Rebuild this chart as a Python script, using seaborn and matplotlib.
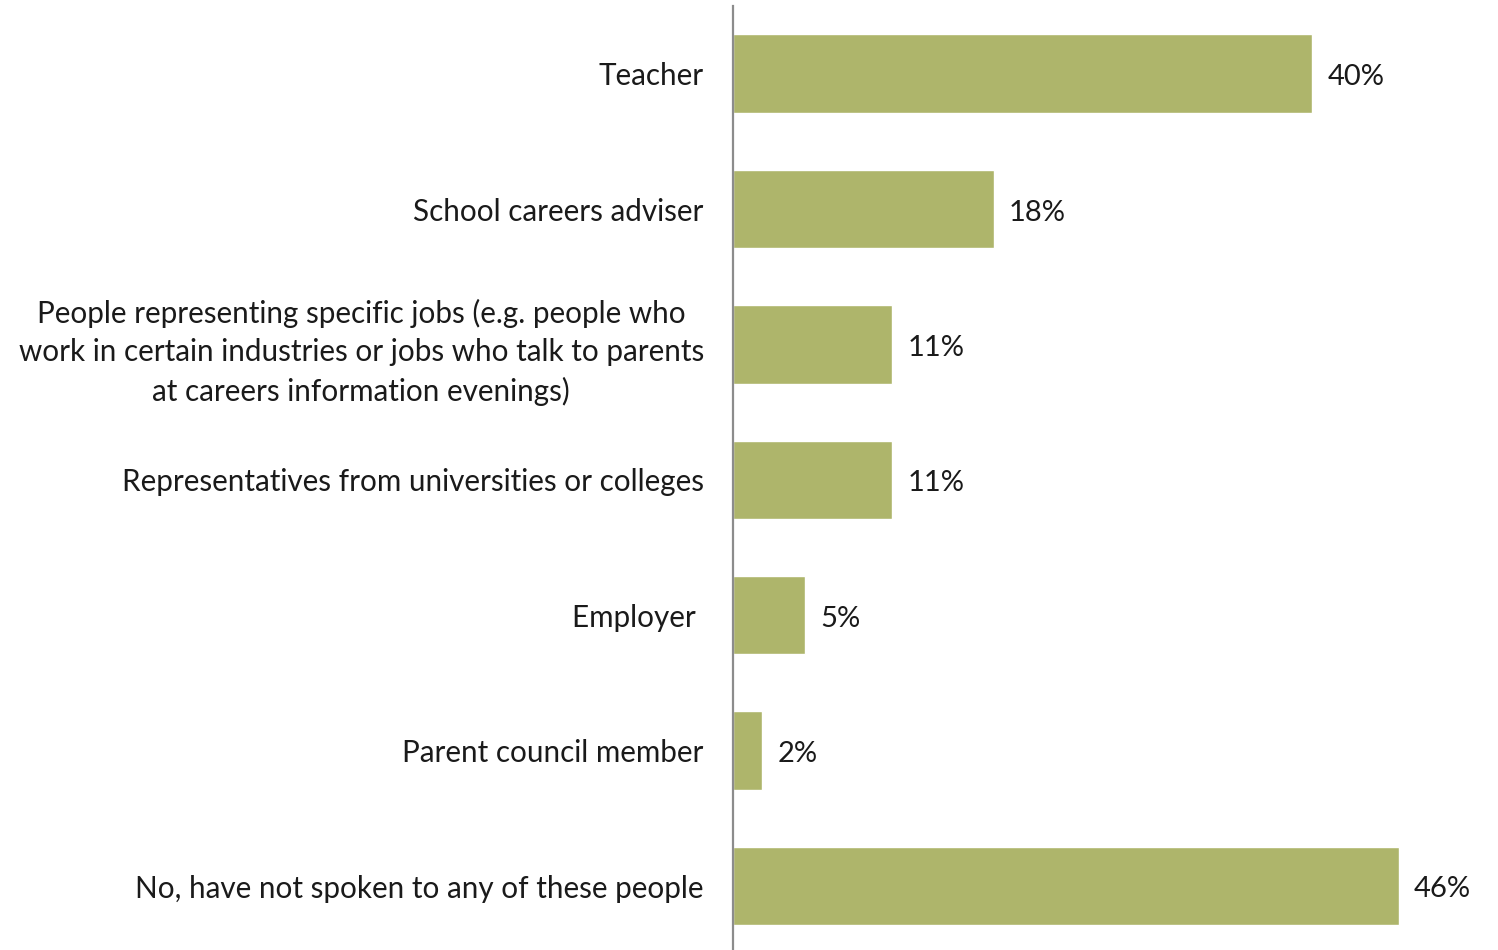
import matplotlib
matplotlib.use("Agg")
import matplotlib.pyplot as plt
import seaborn as sns
import pandas as pd

categories = [
    "Teacher",
    "School careers adviser",
    "People representing specific jobs (e.g. people who\nwork in certain industries or jobs who talk to parents\nat careers information evenings)",
    "Representatives from universities or colleges",
    "Employer ",
    "Parent council member",
    "No, have not spoken to any of these people",
]
values = [40, 18, 11, 11, 5, 2, 46]

df = pd.DataFrame({"source": categories, "pct": values})

sns.set_theme(style="white")
plt.rcParams["font.family"] = ["Lato", "DejaVu Sans"]

fig = plt.figure(figsize=(14.98, 9.5), dpi=100)
ax_left = 733 / 1498
ax_width = 50 * 14.475 / 1498
ax_top = 1 - 6 / 950
ax_bottom = 1 - 953.7 / 950
ax = fig.add_axes([ax_left, ax_bottom, ax_width, ax_top - ax_bottom])

bar_color = "#AEB56B"
sns.barplot(data=df, y="source", x="pct", orient="h", color=bar_color,
            width=0.58, saturation=1, ax=ax)

ax.set_xlim(0, 50)
ax.set_ylim(6.5, -0.5)
ax.set_xlabel("")
ax.set_ylabel("")
ax.set_xticks([])

for side in ["top", "right", "bottom"]:
    ax.spines[side].set_visible(False)
ax.spines["left"].set_color("#8C8C8C")
ax.spines["left"].set_linewidth(1.6)

ax.tick_params(axis="y", length=0, pad=21, labelsize=21.3, labelcolor="#1A1A1A")
for lbl in ax.get_yticklabels():
    lbl.set_multialignment("center")
    lbl.set_linespacing(1.45)

for container in ax.containers:
    anns = ax.bar_label(container, labels=[f"{v}%" for v in values], padding=11,
                        fontsize=21, color="#1A1A1A", clip_on=False)
    for a in anns:
        a.xyann = (11, -2.5)

fig.savefig("out.png", dpi=100)
